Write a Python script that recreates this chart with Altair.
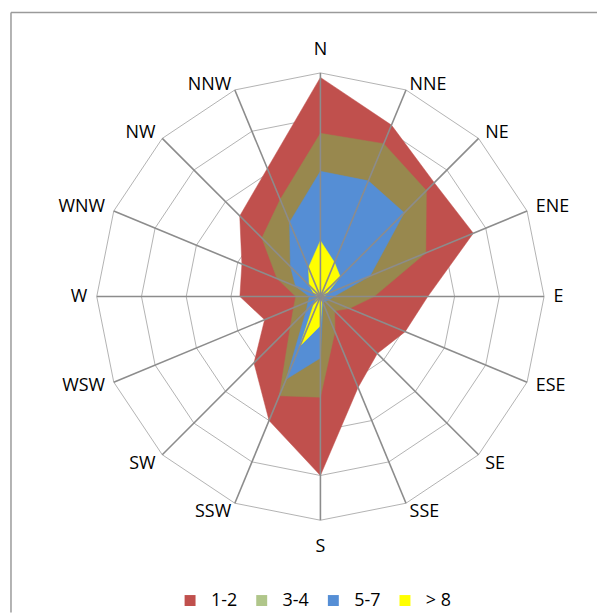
import altair as alt
import pandas as pd
import numpy as np

# ---- data ----
directions = ["N", "NNE", "NE", "ENE", "E", "ESE", "SE", "SSE",
              "S", "SSW", "SW", "WSW", "W", "WNW", "NW", "NNW"]
series_names = ["1-2", "3-4", "5-7", "> 8"]
v_1_2 = [9.8, 8.3, 7.2, 7.4, 4.8, 4.1, 3.6, 4.4, 8.0, 6.0, 4.2, 2.7, 3.6, 3.8, 5.1, 6.2]
v_3_4 = [7.3, 7.4, 6.7, 5.1, 2.4, 1.4, 0.9, 1.7, 4.5, 4.8, 1.9, 1.3, 1.1, 2.1, 3.7, 4.7]
v_5_7 = [5.6, 5.6, 5.3, 2.4, 0.6, 0.4, 0.3, 0.3, 2.75, 4.0, 0.9, 0.6, 0.5, 1.2, 1.9, 3.6]
v_8 = [2.5, 1.65, 1.25, 0.3, 0.15, 0.1, 0.1, 0.2, 1.3, 2.4, 0.4, 0.15, 0.1, 0.3, 0.7, 1.4]
ring_levels = [2, 4, 6, 8, 10]
axis_max = 10

legend_colors = ["#C0504D", "#B0C68A", "#558ED5", "#FFFF00"]
fill_colors = ["#C0504D", "#98884E", "#558ED5", "#FFFF00"]

# ---- layout ----
W, H = 592, 606
cx, cy = 314, 288.5
ppu = 22.48
xs = alt.Scale(domain=[-cx / ppu, (W - cx) / ppu], nice=False, zero=False)
ys = alt.Scale(domain=[-(H - cy) / ppu, cy / ppu], nice=False, zero=False)

n = len(directions)
ang = np.deg2rad(np.arange(n) * 360.0 / n)
sn, cs = np.sin(ang), np.cos(ang)


def polygon(values, key):
    rows = []
    for i in range(n + 1):
        k = i % n
        rows.append({"key": key, "o": i,
                     "x": values[k] * sn[k],
                     "y": values[k] * cs[k]})
    return pd.DataFrame(rows)


X = lambda f="x": alt.X(f"{f}:Q", scale=xs, axis=None)
Y = lambda f="y": alt.Y(f"{f}:Q", scale=ys, axis=None)

layers = []

# outer frame
frame_df = pd.DataFrame({"a": [0]})
layers.append(alt.Chart(frame_df).mark_rule(color="#9A9A9A", strokeWidth=1.5).encode(
    x=alt.value(3), y=alt.value(3), y2=alt.value(H)))
layers.append(alt.Chart(frame_df).mark_rule(color="#9A9A9A", strokeWidth=1.5).encode(
    x=alt.value(3), x2=alt.value(W), y=alt.value(3)))

# rings
ring_df = pd.concat([polygon([lv] * n, str(lv)) for lv in ring_levels])
layers.append(alt.Chart(ring_df).mark_line(color="#B2B2B2", strokeWidth=1).encode(
    x=X(), y=Y(), order="o:Q", detail="key:N"))

# filled series
for vals, name, col in zip([v_1_2, v_3_4, v_5_7, v_8], series_names, fill_colors):
    layers.append(alt.Chart(polygon(vals, name)).mark_line(
        fill=col, stroke=col, strokeWidth=0.5).encode(x=X(), y=Y(), order="o:Q"))

# spokes
spoke_df = pd.DataFrame({"x0": 0.0, "y0": 0.0,
                         "x1": axis_max * sn, "y1": axis_max * cs})
layers.append(alt.Chart(spoke_df).mark_rule(color="#8C8C8C", strokeWidth=1.6).encode(
    x=X("x0"), y=Y("y0"), x2="x1:Q", y2="y1:Q"))

# direction labels, placed outside the outer ring
lab_rows = []
for d, s, c in zip(directions, sn, cs):
    vx, vy = axis_max * s, axis_max * c
    if abs(s) < 0.1:
        g = 18 / ppu
        lab_rows.append(dict(dir=d, x=vx, y=vy + np.sign(c) * g, align="center",
                             base="alphabetic" if c > 0 else "top"))
    elif abs(c) < 0.5:
        g = 9.5 / ppu
        lab_rows.append(dict(dir=d, x=vx + g * s, y=vy + g * c,
                             align="left" if s > 0 else "right", base="middle"))
    else:
        g = 9.5 / ppu
        lab_rows.append(dict(dir=d, x=vx + g * s, y=vy,
                             align="left" if s > 0 else "right",
                             base="alphabetic" if c > 0 else "top"))
lab_df = pd.DataFrame(lab_rows)
for (al, bl), grp in lab_df.groupby(["align", "base"]):
    layers.append(alt.Chart(grp).mark_text(
        font="Open Sans", fontSize=18, color="black", align=al, baseline=bl).encode(
        x=X(), y=Y(), text="dir:N"))

# legend carrier
leg_df = pd.DataFrame({"series": series_names, "x": 0.0, "y": 0.0})
layers.append(alt.Chart(leg_df).mark_point(shape="square", filled=True, opacity=0).encode(
    x=X(), y=Y(),
    color=alt.Color("series:N",
                    scale=alt.Scale(domain=series_names, range=legend_colors),
                    legend=alt.Legend(orient="none", legendX=174, legendY=585,
                                      direction="horizontal", title=None,
                                      symbolType="square", symbolSize=121,
                                      symbolOpacity=1, symbolStrokeWidth=0,
                                      labelFontSize=18, labelFont="Open Sans",
                                      labelColor="black", labelOffset=12,
                                      columnPadding=15))))

chart = alt.layer(*layers).properties(
    width=W, height=H, padding=0,
    autosize=alt.AutoSizeParams(type="none"),
).configure_view(stroke=None)

chart.save("out.html", embed_options={"renderer": "svg", "actions": False})
